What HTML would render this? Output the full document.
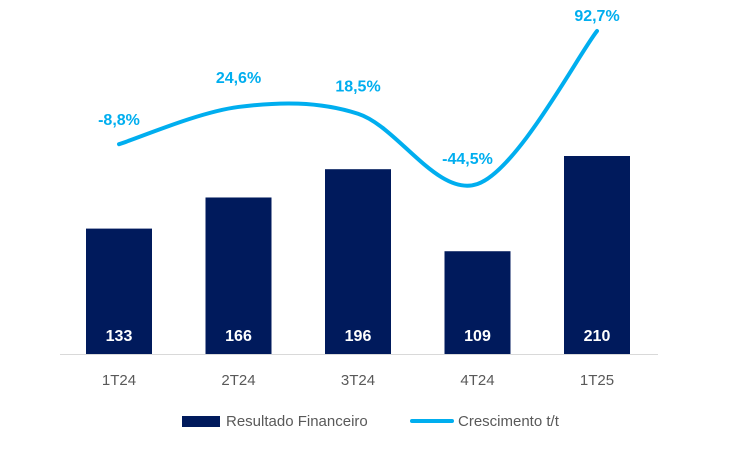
<!DOCTYPE html>
<html><head><meta charset="utf-8">
<style>
html,body{margin:0;padding:0;background:#fff;}
svg{display:block;font-family:"Liberation Sans",Arial,sans-serif;}
</style></head>
<body>
<svg id="chart" width="751" height="451" viewBox="0 0 751 451" xmlns="http://www.w3.org/2000/svg">
<line x1="60" y1="354.5" x2="658" y2="354.5" stroke="#d9d9d9" stroke-width="1"/>
<g id="bars"></g>
<g id="line"></g>
<g id="labels"></g>
<g>
  <rect x="182" y="416" width="38" height="11" fill="#001a5c"/>
  <text x="226" y="426" font-size="15" fill="#595959">Resultado Financeiro</text>
  <line x1="412" y1="421" x2="452" y2="421" stroke="#00aeef" stroke-width="4" stroke-linecap="round"/>
  <text x="458" y="426" font-size="15" fill="#595959">Crescimento t/t</text>
</g>
</svg>
<script>
const categories = ["1T24","2T24","3T24","4T24","1T25"];
const barValues = [133,166,196,109,210];
const growthValues = [-8.8,24.6,18.5,-44.5,92.7];
const growthLabels = ["-8,8%","24,6%","18,5%","-44,5%","92,7%"];

const NS="http://www.w3.org/2000/svg";
const baseY=354, barPx=198/210;
function xCenter(i){return 119+i*119.5;}
function yBar(v){return baseY-v*barPx;}
function yLine(v){return 184-(v+44.5)*(153/137.2);}
function mk(tag,attrs,parent){const e=document.createElementNS(NS,tag);for(const k in attrs)e.setAttribute(k,attrs[k]);parent.appendChild(e);return e;}
const gb=document.getElementById('bars'),gl=document.getElementById('line'),gt=document.getElementById('labels');
barValues.forEach((v,i)=>{
  const r=mk('rect',{x:xCenter(i)-33,y:yBar(v),width:66,height:baseY-yBar(v),fill:'#001a5c'},gb);
  
  
  const t=mk('text',{x:xCenter(i),y:341,'text-anchor':'middle','font-size':16,'font-weight':'bold',fill:'#fff'},gt);
  t.textContent=v;
  
  
  const c=mk('text',{x:xCenter(i),y:385,'text-anchor':'middle','font-size':15,fill:'#595959'},gt);
  c.textContent=categories[i];
  
  
});
const pts=growthValues.map((v,i)=>[xCenter(i),yLine(v)]);
let d='M'+pts[0][0]+','+pts[0][1];
for(let i=0;i<pts.length-1;i++){
  const p0=pts[Math.max(i-1,0)],p1=pts[i],p2=pts[i+1],p3=pts[Math.min(i+2,pts.length-1)];
  const t=0.17*3/3;
  const c1=[p1[0]+(p2[0]-p0[0])/6,p1[1]+(p2[1]-p0[1])/6];
  const c2=[p2[0]-(p3[0]-p1[0])/6,p2[1]-(p3[1]-p1[1])/6];
  d+=' C'+c1[0]+','+c1[1]+' '+c2[0]+','+c2[1]+' '+p2[0]+','+p2[1];
}
const path=mk('path',{d:d,fill:'none',stroke:'#00aeef','stroke-width':4,'stroke-linecap':'round'},gl);


const offs=[-19,-24,-22,-20,-10];
const dx=[0,0,0,-10,0];
growthValues.forEach((v,i)=>{
  const t=mk('text',{x:pts[i][0]+dx[i],y:pts[i][1]+offs[i],'text-anchor':'middle','font-size':16,'font-weight':'bold',fill:'#00aeef'},gt);
  t.textContent=growthLabels[i];
  
  
});
</script>
</body></html>
